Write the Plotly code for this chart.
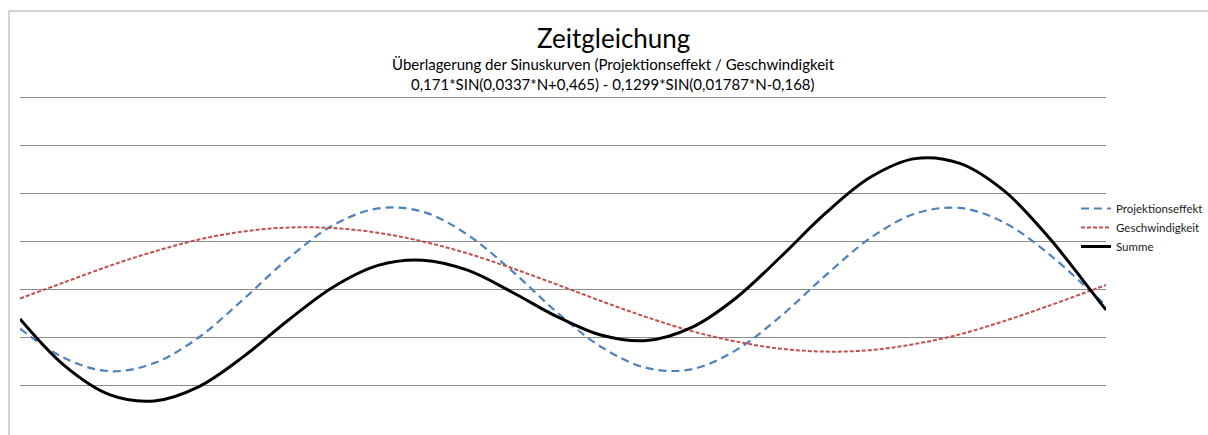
import plotly.graph_objects as go

# Tag im Jahr (N)
tage = [1, 16, 31, 46, 61, 76, 91, 106, 121, 136, 151, 166, 181, 196, 211, 226,
        241, 256, 271, 286, 301, 316, 331, 346, 361, 365]

projektionseffekt = [-0.082, -0.144, -0.171, -0.154, -0.100, -0.020, 0.065, 0.134,
                     0.169, 0.162, 0.114, 0.038, -0.048, -0.121, -0.164, -0.167,
                     -0.127, -0.056, 0.029, 0.107, 0.158, 0.170, 0.139, 0.073,
                     -0.011, -0.034]

geschwindigkeit = [-0.019, 0.015, 0.049, 0.079, 0.104, 0.121, 0.129, 0.128,
                   0.118, 0.100, 0.075, 0.044, 0.010, -0.025, -0.058, -0.087,
                   -0.109, -0.124, -0.130, -0.127, -0.114, -0.094, -0.066, -0.034,
                   0.000, 0.009]

summe = [-0.062, -0.160, -0.220, -0.233, -0.203, -0.140, -0.064, 0.005,
         0.050, 0.061, 0.040, -0.006, -0.057, -0.096, -0.107, -0.080,
         -0.018, 0.068, 0.159, 0.234, 0.273, 0.263, 0.205, 0.107,
         -0.011, -0.043]

titel = "Zeitgleichung"
untertitel = "Überlagerung der Sinuskurven (Projektionseffekt / Geschwindigkeit"
formel = "0,171*SIN(0,0337*N+0,465) - 0,1299*SIN(0,01787*N-0,168)"

W, H = 1208, 435
L, R, T, B = 20, 102, 93, 2

fig = go.Figure()
fig.add_trace(go.Scatter(x=tage, y=projektionseffekt, name="Projektionseffekt",
                         mode="lines", line=dict(color="#4F81BD", width=2.2, dash="8px,5px", shape="spline")))
fig.add_trace(go.Scatter(x=tage, y=geschwindigkeit, name="Geschwindigkeit",
                         mode="lines", line=dict(color="#C0504D", width=2, dash="4px,2px", shape="spline")))
fig.add_trace(go.Scatter(x=tage, y=summe, name="Summe",
                         mode="lines", line=dict(color="#000000", width=3, shape="spline")))

PW, PH = W - L - R, H - T - B

def px_x(pix):
    return (pix - L) / PW

def px_y(pix):
    return (H - B - pix) / PH

fig.update_layout(
    width=W, height=H,
    margin=dict(l=L, r=R, t=T, b=B, autoexpand=False),
    paper_bgcolor="white", plot_bgcolor="white",
    font=dict(family="Lato, 'Open Sans', sans-serif", color="#000000"),
    showlegend=True,
    legend=dict(x=px_x(1076), y=px_y(194),
                xanchor="left", yanchor="top", bgcolor="rgba(0,0,0,0)",
                font=dict(size=11.5, color="#1a1a1a"), itemwidth=30,
                tracegroupgap=0),
    xaxis=dict(range=[1, 365], showgrid=False, zeroline=False, showline=False,
               showticklabels=False, ticks=""),
    yaxis=dict(range=[-0.3, 0.41], dtick=0.1, tick0=0, showgrid=True,
               gridcolor="#8C8C8C", gridwidth=1, zeroline=False, showline=False,
               showticklabels=False, ticks=""),
)

# Diagrammrahmen
fig.add_shape(type="line", xref="paper", yref="paper", x0=px_x(9), x1=px_x(W),
              y0=px_y(11), y1=px_y(11), line=dict(color="#A6A6A6", width=1))
fig.add_shape(type="line", xref="paper", yref="paper", x0=px_x(9), x1=px_x(9),
              y0=px_y(H + 5), y1=px_y(11), line=dict(color="#A6A6A6", width=1))

cx = px_x(613)
fig.add_annotation(text=titel, x=cx, y=px_y(38), xref="paper", yref="paper",
                   showarrow=False, xanchor="center", yanchor="middle",
                   font=dict(size=26, color="#000000"))
fig.add_annotation(text=untertitel, x=cx, y=px_y(64), xref="paper", yref="paper",
                   showarrow=False, xanchor="center", yanchor="middle",
                   font=dict(size=15, color="#000000"))
fig.add_annotation(text=formel, x=cx, y=px_y(84), xref="paper", yref="paper",
                   showarrow=False, xanchor="center", yanchor="middle",
                   font=dict(size=15, color="#000000"))

fig.write_html("out.html", config={"displayModeBar": False},
               post_script="document.body.style.margin='0px';")
